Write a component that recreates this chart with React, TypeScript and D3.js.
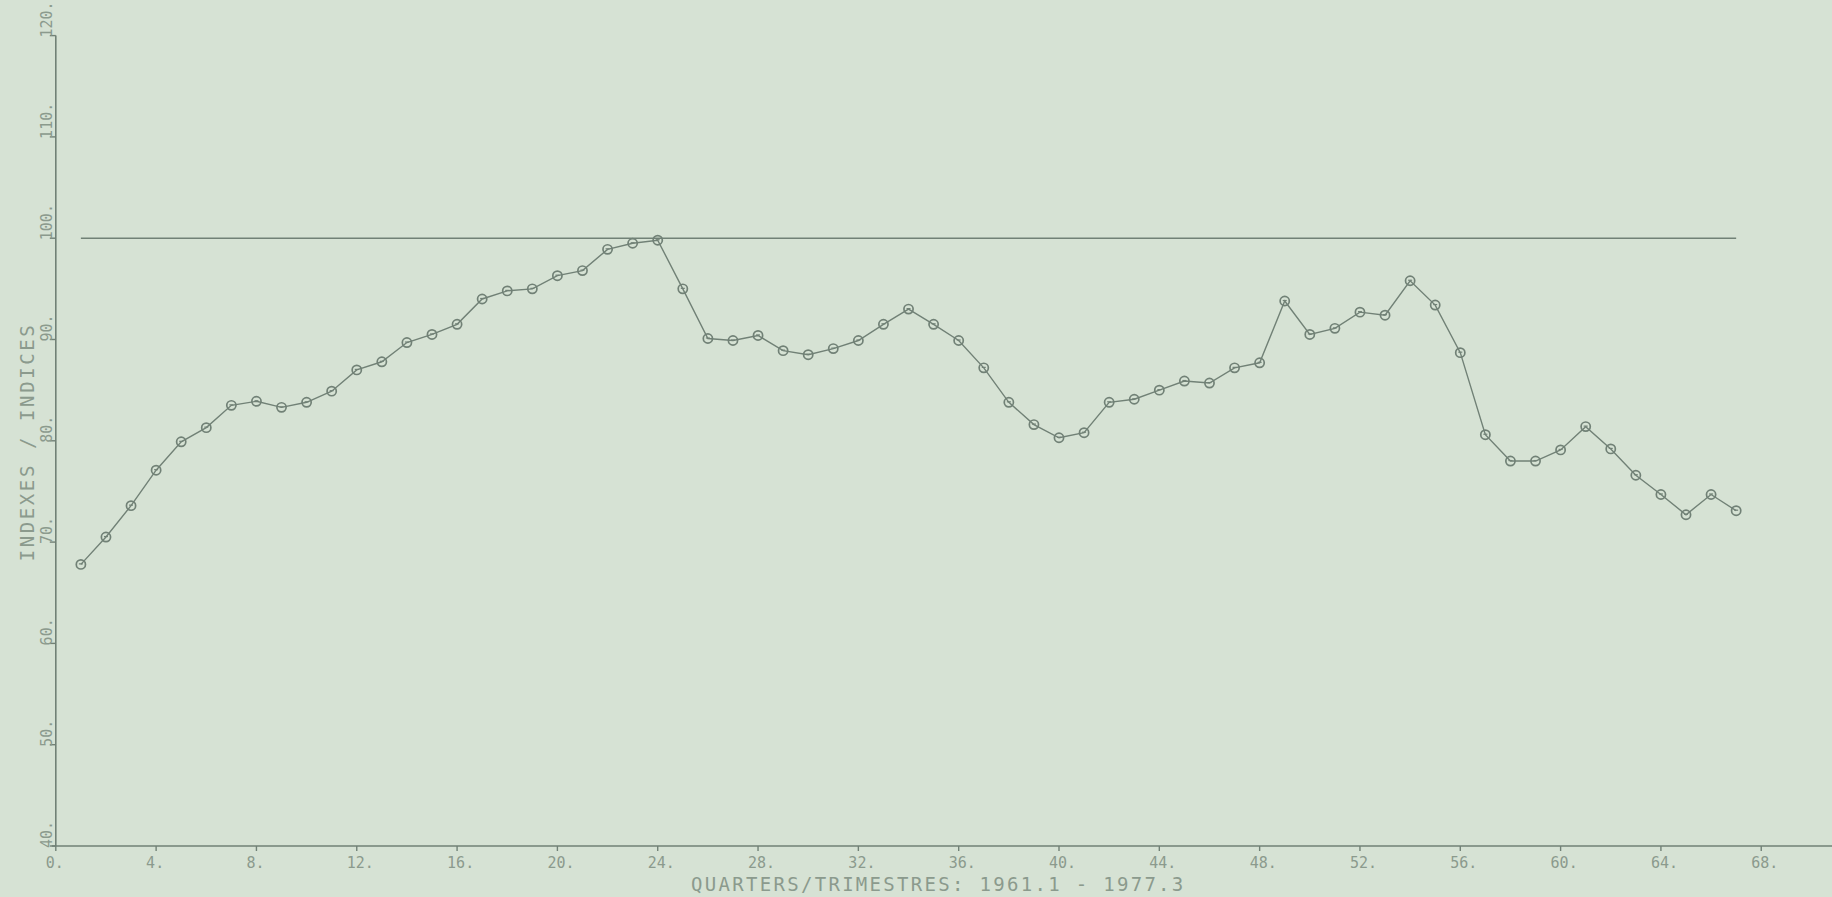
import React from "react";
import * as d3 from "d3";

const quarters: number[] = Array.from({ length: 67 }, (_, i) => i + 1);
const indexValues: number[] = [
  67.8, 70.5, 73.6, 77.1, 79.9, 81.3, 83.5, 83.9, 83.3, 83.8,
  84.9, 87.0, 87.8, 89.7, 90.5, 91.5, 94.0, 94.8, 95.0, 96.3,
  96.8, 98.9, 99.5, 99.8, 95.0, 90.1, 89.9, 90.4, 88.9, 88.5,
  89.1, 89.9, 91.5, 93.0, 91.5, 89.9, 87.2, 83.8, 81.6, 80.3,
  80.8, 83.8, 84.1, 85.0, 85.9, 85.7, 87.2, 87.7, 93.8, 90.5,
  91.1, 92.7, 92.4, 95.8, 93.4, 88.7, 80.6, 78.0, 78.0, 79.1,
  81.4, 79.2, 76.6, 74.7, 72.7, 74.7, 73.1,
];
const xTicks: number[] = [0, 4, 8, 12, 16, 20, 24, 28, 32, 36, 40, 44, 48, 52, 56, 60, 64, 68];
const yTicks: number[] = [40, 50, 60, 70, 80, 90, 100, 110, 120];
const referenceLevel = 100;
const xTitle = "QUARTERS/TRIMESTRES: 1961.1 - 1977.3";
const yTitle = "INDEXES / INDICES";

const W = 1832;
const H = 897;
const BG = "#d6e2d4";
const INK = "#718176";
const TEXT = "#8b9a8d";
const FONT = "'DejaVu Sans Mono', 'Liberation Mono', monospace";

export default function App() {
  const x = d3.scaleLinear().domain([0, 68]).range([55.8, 55.8 + 68 * 25.08]);
  const y = d3.scaleLinear().domain([40, 110]).range([846, 846 - 70 * 10.13]);
  const data = quarters.map((q, i) => ({ q, v: indexValues[i] }));
  const line = d3
    .line<{ q: number; v: number }>()
    .x((d) => x(d.q))
    .y((d) => y(d.v));
  const x0 = x(0);
  const yBase = y(40);

  return (
    <div style={{ position: "absolute", left: 0, top: 0, width: W, height: H, background: BG }}>
      <svg width={W} height={H} style={{ display: "block" }}>
        <rect x={0} y={0} width={W} height={H} fill={BG} />
        {/* Y axis */}
        <line x1={x0} x2={x0} y1={yBase} y2={y(120)} stroke={INK} strokeWidth={1.6} />
        {yTicks.map((t) => (
          <g key={"yt" + t}>
            <line x1={x0 - 6} x2={x0} y1={y(t)} y2={y(t)} stroke={INK} strokeWidth={1.4} />
            <text
              transform={`translate(${x0 - 4},${y(t) + 2}) rotate(-90)`}
              fontFamily={FONT}
              fontSize={15}
              fill={TEXT}
              textAnchor="start"
            >
              {t + "."}
            </text>
          </g>
        ))}
        {/* X axis */}
        <line x1={x0 - 4} x2={W} y1={yBase} y2={yBase} stroke={INK} strokeWidth={1.6} />
        {xTicks.map((t) => (
          <g key={"xt" + t}>
            <line x1={x(t)} x2={x(t)} y1={yBase} y2={yBase + 5} stroke={INK} strokeWidth={1.4} />
            <text
              x={x(t) - 10}
              y={yBase + 22}
              fontFamily={FONT}
              fontSize={15}
              fill={TEXT}
              textAnchor="start"
            >
              {t + "."}
            </text>
          </g>
        ))}
        {/* Titles */}
        <text
          x={691}
          y={891}
          fontFamily={FONT}
          fontSize={19}
          letterSpacing={2.3}
          fill={TEXT}
          textAnchor="start"
        >
          {xTitle}
        </text>
        <text
          transform={`translate(34,${442}) rotate(-90)`}
          fontFamily={FONT}
          fontSize={19}
          letterSpacing={2.6}
          fill={TEXT}
          textAnchor="middle"
        >
          {yTitle}
        </text>
        {/* Reference line at 100 */}
        <line
          x1={x(quarters[0])}
          x2={x(quarters[quarters.length - 1])}
          y1={y(referenceLevel)}
          y2={y(referenceLevel)}
          stroke={INK}
          strokeWidth={1.6}
        />
        {/* Series */}
        <path d={line(data) || ""} fill="none" stroke={INK} strokeWidth={1.4} />
        {data.map((d) => (
          <g key={"p" + d.q}>
            <circle cx={x(d.q)} cy={y(d.v)} r={4.6} fill="none" stroke={INK} strokeWidth={1.7} />
            <line
              x1={x(d.q) - 2}
              x2={x(d.q) + 2}
              y1={y(d.v) - 0.5}
              y2={y(d.v) - 0.5}
              stroke={INK}
              strokeWidth={1.2}
            />
          </g>
        ))}
      </svg>
    </div>
  );
}
